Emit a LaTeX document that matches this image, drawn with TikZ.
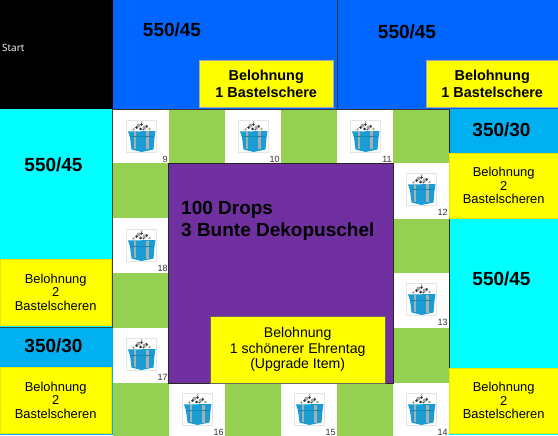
\documentclass[tikz,border=0pt]{standalone}
\usepackage{fontspec}
\usetikzlibrary{calc}
\setmainfont{Liberation Sans}
\newfontfamily\startfont{Open Sans}
\definecolor{feldblau}{HTML}{0066FF}
\definecolor{feldcyan}{HTML}{00FFFF}
\definecolor{feldhell}{HTML}{00B0F0}
\definecolor{feldlila}{HTML}{7030A0}
\definecolor{feldgelb}{HTML}{FFFF00}
\definecolor{feldgruen}{HTML}{94D152}
\definecolor{giftblau}{HTML}{1A9DD4}
\tikzset{
  feld/.style={draw=#1, fill=#1, minimum width=0pt, inner sep=0pt, anchor=north west},
  punkte/.style={font=\bfseries\fontsize{19}{22}\selectfont},
  lohngross/.style={draw=black!35, fill=feldgelb, inner sep=0pt, anchor=north west, align=center,
    font=\bfseries\fontsize{14.4}{16.5}\selectfont},
  lohnklein/.style={draw=feldgelb!90!black, fill=feldgelb, inner sep=0pt, anchor=north west, align=center,
    font=\fontsize{12.9}{13.4}\selectfont},
  nummer/.style={font=\fontsize{9}{10}\selectfont, text=black!80, inner sep=0.5pt, anchor=south east},
  pics/gift/.style={code={
    \draw[black!10, fill=white, line width=0.6pt] (0,0) rectangle (30,32);
    \fill[giftblau] (1.5,11) -- (29,10.5) -- (28,17) -- (27,29) -- (15,31.5) -- (5,29) -- (3.5,17) -- cycle;
    \fill[black!32] (7,11) rectangle (9.5,28.5);
    \fill[black!32] (19.5,11) rectangle (22,29);
    \fill[giftblau!85!black] (3.5,16) rectangle (27.5,17);
    \fill[black!80] (10,7) circle (1.5) (20,6) circle (1.6) (15,4) circle (1.4) (14,8.5) circle (1.5) (17,9) circle (1);
    \fill[black!35] (12,5) circle (2) (18,7) circle (2) (23,8.5) circle (1.4) (7,9) circle (1.4) (15,1.5) circle (1);
  }}
}
\begin{document}
\begin{tikzpicture}[x=1pt, y=-1pt]
  \useasboundingbox (0,0) rectangle (558,436);
  % Spielfelder
  \foreach \n/\x/\y in {a/168/110, b/281/110, c/393/110, d/113/163, e/393/219, f/113/273, g/393/328, h/113/383, i/225/383, j/337/383}
    \node[feld=feldgruen, minimum width=56pt, minimum height=54pt] (gruen\n) at (\x,\y) {};
  \foreach \n/\x/\y in {9/113/110, 10/225/110, 11/337/110, 12/393/163, 13/393/273, 14/393/383, 15/281/383, 16/169/383, 17/113/328, 18/113/219} {
    \node[feld=white, minimum width=55pt, minimum height=52.5pt] (tile\n) at (\x,\y) {};
    \pic at ($(\x,\y)+(13.5,10.5)$) {gift};
    \node[nummer] (num\n) at (tile\n.south east) {\n};
  }
  % Mitte
  \node[draw=black!85, fill=feldlila, line width=0.8pt, inner sep=0pt, anchor=north west, minimum width=225pt, minimum height=220pt] (mitte) at (168,163) {};
  \node[anchor=north west, inner sep=0pt, align=left, font=\bfseries\fontsize{19}{22}\selectfont] (drops) at (181,201) {100 Drops\\3 Bunte Dekopuschel};
  \node[draw=black!60, fill=feldgelb, inner sep=0pt, anchor=north west, align=center, minimum width=175pt, minimum height=67pt, font=\fontsize{14.1}{15.5}\selectfont] (ehrentag) at (210,316) {Belohnung\\1 schönerer Ehrentag\\(Upgrade Item)};
  % Start und obere Reihe
  \node[feld=black, minimum width=112pt, minimum height=109pt] (start) at (0,0) {};
  \node[anchor=west, inner sep=0pt, text=white, font=\startfont\fontsize{10}{11}\selectfont] (starttext) at (2,48) {Start};
  \node[feld=feldblau, minimum width=224pt, minimum height=109pt] (blauA) at (113,0) {};
  \node[feld=feldblau, minimum width=221pt, minimum height=109pt] (blauB) at (337,0) {};
  \draw[black!80, line width=0.8pt] (blauB.north west) -- (blauB.south west);
  \draw[black!80, line width=0.8pt] (start.south east) -- (blauB.south east);
  \node[punkte] (punkteA) at (172,30) {550/45};
  \node[punkte] (punkteB) at (407,32) {550/45};
  \node[lohngross, minimum width=134pt, minimum height=47pt] (lohnA) at (199,60) {Belohnung\\1 Bastelschere};
  \node[lohngross, minimum width=132pt, minimum height=47pt] (lohnB) at (426,60) {Belohnung\\1 Bastelschere};
  % linke Spalte
  \node[feld=feldcyan, minimum width=111pt, minimum height=218pt] (cyanL) at (0,109) {};
  \node[punkte] (punkteL) at (53.5,165) {550/45};
  \node[lohnklein, minimum width=111pt, minimum height=66pt] (lohnL) at (0,259) {Belohnung\\2\\Bastelscheren};
  \node[feld=feldhell, minimum width=112pt, minimum height=107pt] (hellL) at (0,327) {};
  \draw[black!75, line width=0.7pt] (0,327.5) -- (112,327.5) -- (112,109);
  \node[punkte] (punkteM) at (53.5,346) {350/30};
  \node[lohnklein, minimum width=111pt, minimum height=66pt] (lohnM) at (0,367) {Belohnung\\2\\Bastelscheren};
  % rechte Spalte
  \node[feld=feldhell, minimum width=109pt, minimum height=110pt] (hellR) at (449,109) {};
  \node[punkte] (punkteR) at (501.5,130) {350/30};
  \node[lohnklein, minimum width=109pt, minimum height=65pt] (lohnR) at (449,153) {Belohnung\\2\\Bastelscheren};
  \node[feld=feldcyan, minimum width=109pt, minimum height=215pt] (cyanR) at (449,219) {};
  \draw[black!85, line width=0.8pt] (cyanR.north west) -- (cyanR.south west);
  \draw[black!85, line width=0.8pt] (hellR.north west) -- (lohnR.north west);
  \node[punkte] (punkteS) at (501.5,279) {550/45};
  \node[lohnklein, minimum width=109pt, minimum height=65pt] (lohnS) at (449,368) {Belohnung\\2\\Bastelscheren};
\end{tikzpicture}
\end{document}
